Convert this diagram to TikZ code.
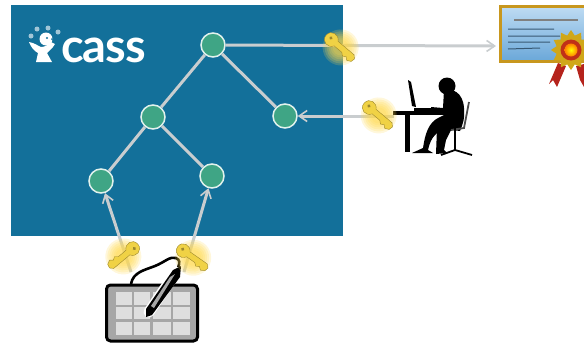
\documentclass[tikz,border=0pt]{standalone}
\usepackage{fontspec}
\setsansfont{Lato}
\usetikzlibrary{arrows.meta,shapes.geometric}
\definecolor{cassblue}{HTML}{13709A}
\definecolor{nodegreen}{HTML}{3FA585}
\definecolor{keygold}{HTML}{F0D245}
\definecolor{glowgold}{HTML}{FFD84A}
\definecolor{certgold}{HTML}{C8971E}
\definecolor{certblue}{HTML}{6FB0E4}
\definecolor{ribbonred}{HTML}{B5231C}
\definecolor{linegray}{HTML}{C9CDCF}
\definecolor{tilegray}{HTML}{DEDEDE}
\tikzset{
    treenode/.style={circle,draw=white!85!nodegreen,fill=nodegreen,line width=1.5pt,minimum size=24pt,inner sep=0pt},
    treeline/.style={draw=linegray,line width=3pt},
    flowline/.style={draw=linegray,line width=3pt,-{Straight Barb[length=8pt,width=11pt,line width=1.6pt]}},
    sil/.style={fill=black,draw=none},
    keypic/.pic={
        \foreach \r in {18,16,14,12,10,8} {
            \fill[glowgold,opacity=0.2] (10,0) circle (\r);
        }
        \fill[keygold,draw=keygold!65!black,line width=0.4pt] (4,-3) -- (25,-3) -- (28,0) -- (27,4) -- (23,6) -- (20,3.5) -- (17,5.5) -- (14,3) -- (4,3) .. controls (1,9) and (-9,8) .. (-9,0) .. controls (-9,-8) and (1,-9) .. (4,-3) -- cycle;
        \fill[keygold!65!black] (-3.5,-1) circle (1.8);
    }
}
\begin{document}
\begin{tikzpicture}[x=1pt,y=-1pt]
    \useasboundingbox (0,0) rectangle (584,343);
    % blue panel
    \fill[cassblue] (11,5) rectangle (343,236);

    % logo
    \node[text=white,font=\sffamily\bfseries\fontsize{47}{47}\selectfont,inner sep=0pt,anchor=base west] (logotext) at (61,62) {\addfontfeature{LetterSpace=-2}cass};
    \fill[white] (29,42) .. controls (35,43) and (38,46) .. (41,47) .. controls (45,47) and (48,45) .. (51,42) -- (55,44) .. controls (52,49) and (49,51) .. (47,53) -- (52,62) -- (36,62) -- (38,53) .. controls (34,51) and (31,47) .. (29,42) -- cycle;
    \fill[white] (46,39) circle (6.5);
    \fill[cassblue] (47,38) circle (1.1) (52,39) circle (1);
    \fill[white!60!cassblue] (31,36) circle (2.5) (37,29) circle (2.5) (48,28) circle (2.5) (58,32) circle (2.5);

    % tree
    \node[treenode] (root) at (213,45) {};
    \node[treenode] (left) at (153,117) {};
    \node[treenode] (right) at (285,116) {};
    \node[treenode] (leafa) at (101,181) {};
    \node[treenode] (leafb) at (212,176) {};
    \draw[treeline] (root) -- (left);
    \draw[treeline] (root) -- (right);
    \draw[treeline] (left) -- (leafa);
    \draw[treeline] (left) -- (leafb);

    % certificate
    \node[draw=certgold,line width=2.8pt,inner sep=0pt,minimum width=92pt,minimum height=55pt,anchor=west,
        top color=certblue!45!white,bottom color=certblue!95!black] (cert) at (499,34) {};
    \coordinate (certin) at (496,46);
    \draw[gray,line width=1.6pt] (514,20) -- (578,20);
    \draw[black!50!certblue,line width=1pt] (508,29) -- (554,29) (508,36) -- (560,36) (508,42) -- (550,42) (508,49) -- (540,48);
    \fill[ribbonred] (558,63) -- (566,66) -- (557,87) -- (553,80) -- (549,84) -- cycle;
    \fill[ribbonred] (576,66) -- (584,64) -- (584,87) -- (580,80) -- cycle;
    \node[star,star points=12,star point ratio=1.35,fill=certgold!85!yellow,minimum size=40pt,inner sep=0pt] (seal) at (571,50) {};
    \fill[ribbonred!85!orange] (seal) circle (10.5);
    \shade[inner color=yellow,outer color=orange] (seal) circle (6.5);

    % person at desk
    \coordinate (desk) at (394,116);
    \fill[sil] (393,111) rectangle (448,115);
    \fill[sil] (405,114) rectangle (410,152);
    \fill[sil] (408,80) -- (411,82) -- (416,107) -- (412,106) -- cycle;
    \fill[sil] (414,108) rectangle (433,111);
    \fill[sil] (447,86) circle (8.5);
    \fill[sil] (444,90) .. controls (452,88) and (463,92) .. (464,108) .. controls (465,118) and (463,124) .. (460,131) -- (445,129) .. controls (437,132) and (431,136) .. (428,150) -- (433,153) -- (412,153) -- (423,148) .. controls (425,135) and (428,122) .. (440,117) -- (446,114) -- (431,111) -- (431,107) -- (443,108) -- cycle;
    \fill[sil] (437,128) -- (452,128) -- (446,140) -- (444,150) -- (447,153) -- (436,154) -- cycle;
    \draw[black!70,line width=1.8pt] (469,102) -- (464,128) -- (451,130);
    \draw[black,line width=1.8pt] (455,128) -- (455,150) (441,155) -- (455,150) -- (472,155);

    % tablet
    \node[draw=black,fill=gray!70,line width=3pt,rounded corners=4pt,minimum width=91pt,minimum height=56pt,inner sep=0pt] (tablet) at (152,313) {};
    \foreach \x/\w in {116/16,134/16,153/18,173/17} {
        \foreach \y/\h in {292/13,307/12,322/13} {
            \fill[tilegray] (\x,\y) rectangle ++(\w,\h);
        }
    }
    \draw[black,line width=2.6pt] (131,284) .. controls (133,272) and (145,270) .. (155,266) .. controls (165,262) and (170,256) .. (176,258) .. controls (180,260) and (180,262) .. (178,268);
    \draw[white,line width=11pt,line cap=round] (176,272) -- (149,312);
    \fill[black] (181,266) -- (180,277) -- (152,315) -- (146,317) -- (146,309) -- (173,270) -- cycle;
    \fill[gray!70] (175,274) -- (170,277) -- (151,306) -- (154,308) -- cycle;

    % connectors
    \coordinate (tabl) at (131,272);
    \coordinate (tabr) at (184,272);
    \draw[flowline] (root) -- (certin);
    \draw[flowline] (desk) -- (right);
    \draw[flowline] (tabl) -- (leafa);
    \draw[flowline] (tabr) -- (leafb);

    % keys
    \pic[rotate=-40] at (333,41) {keypic};
    \pic[rotate=-40] at (371,109) {keypic};
    \pic[rotate=-140] at (131,250) {keypic};
    \pic[rotate=-35] at (185,252) {keypic};
\end{tikzpicture}
\end{document}
